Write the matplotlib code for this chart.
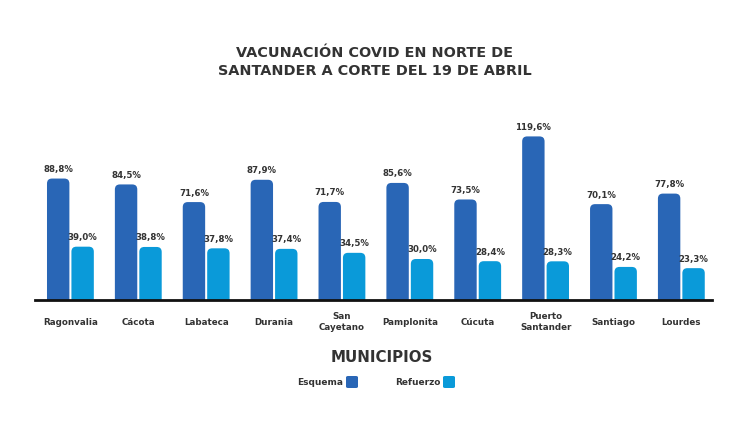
import matplotlib
matplotlib.use('Agg')
import matplotlib.pyplot as plt
from matplotlib.patches import FancyBboxPatch
import numpy as np

plt.rcParams['font.family'] = ['DejaVu Sans']

# data
municipios = ['Ragonvalia', 'Cácota', 'Labateca', 'Durania', 'San\nCayetano',
              'Pamplonita', 'Cúcuta', 'Puerto\nSantander', 'Santiago', 'Lourdes']
esquema = [88.8, 84.5, 71.6, 87.9, 71.7, 85.6, 73.5, 119.6, 70.1, 77.8]
refuerzo = [39.0, 38.8, 37.8, 37.4, 34.5, 30.0, 28.4, 28.3, 24.2, 23.3]

c_esq = '#2966b6'
c_ref = '#0a9ad9'
txt = '#333333'

fig = plt.figure(figsize=(7.47, 4.27), dpi=100)
ax = fig.add_axes([0.047, 0.295, 0.906, 0.4005])

x = np.arange(len(municipios))
w = 0.33
off = 0.18
ymax = 125
ax.set_xlim(-0.52, 9.45)
ax.set_ylim(0, ymax)

# px -> data units, for round tops
ax_w_px = 0.906 * 747
ax_h_px = 0.4005 * 427
xu = (9.45 + 0.52) / ax_w_px
yu = ymax / ax_h_px
aspect = yu / xu


def rounded_bars(xs, vals, color):
    bars = ax.bar(xs, vals, w, color=color)
    for b in bars:
        x0, h = b.get_x(), b.get_height()
        b.set_visible(False)
        p = FancyBboxPatch((x0, -6), w, h + 6,
                           boxstyle='round,pad=0,rounding_size=%f' % (5 * xu),
                           mutation_aspect=aspect, fc=color, ec='none')
        ax.add_patch(p)
    return bars


rounded_bars(x - off, esquema, c_esq)
rounded_bars(x + off, refuerzo, c_ref)

for i in range(len(x)):
    ax.annotate(('%.1f%%' % esquema[i]).replace('.', ','), (x[i] - off, esquema[i]),
                xytext=(0, 4), textcoords='offset points', ha='center', va='bottom',
                fontsize=6.2, fontweight='bold', color=txt)
    ax.annotate(('%.1f%%' % refuerzo[i]).replace('.', ','), (x[i] + off, refuerzo[i]),
                xytext=(0, 4), textcoords='offset points', ha='center', va='bottom',
                fontsize=6.2, fontweight='bold', color=txt)
    ax.text(x[i], -0.123, municipios[i], transform=ax.get_xaxis_transform(),
            ha='center', va='center', fontsize=6.3, fontweight='bold', color=txt,
            linespacing=1.35)

ax.axhline(0, color='#111111', lw=2, clip_on=False)
for s in ax.spines.values():
    s.set_visible(False)
ax.set_xticks([])
ax.set_yticks([])

fig.text(0.502, 1 - 62 / 427, 'VACUNACIÓN COVID EN NORTE DE\nSANTANDER A CORTE DEL 19 DE ABRIL',
         ha='center', va='center', fontsize=10.4, fontweight='bold', color=txt,
         linespacing=1.3)
fig.text(382 / 747, 1 - 357 / 427, 'MUNICIPIOS', ha='center', va='center', fontsize=10.8,
         fontweight='bold', color=txt)

# legend
fig.text(343 / 747, 1 - 383 / 427, 'Esquema', ha='right', va='center', fontsize=6.5,
         fontweight='bold', color=txt)
fig.text(440 / 747, 1 - 383 / 427, 'Refuerzo', ha='right', va='center', fontsize=6.5,
         fontweight='bold', color=txt)
for xp, c in [(346, c_esq), (443, c_ref)]:
    fig.patches.append(FancyBboxPatch((xp / 747, 1 - 389 / 427), 12 / 747, 12 / 427,
                                      boxstyle='round,pad=0,rounding_size=0.003',
                                      transform=fig.transFigure, fc=c, ec='none'))

fig.savefig('out.png', dpi=100, facecolor='white')
